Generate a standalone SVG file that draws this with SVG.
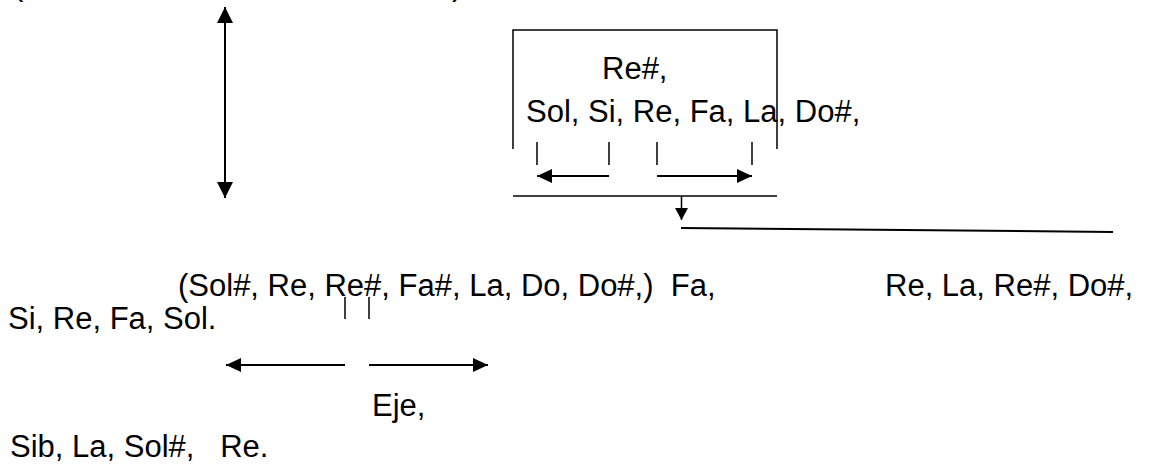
<svg xmlns="http://www.w3.org/2000/svg" width="1149" height="465" viewBox="0 0 1149 465">
<style>
  text { font-family: "Liberation Sans", Arial, sans-serif; font-size: 31px; fill: #000; white-space: pre; }
  .ln { stroke: #000; stroke-width: 1.5; fill: none; }
  .ar { stroke: #000; stroke-width: 2; fill: none; }
</style>
<defs>
  <marker id="ah" markerUnits="userSpaceOnUse" markerWidth="16" markerHeight="16" refX="15" refY="7" orient="auto-start-reverse" viewBox="0 0 16 16">
    <path d="M0,0 L15,7 L0,14 z" fill="#000"/>
  </marker>
  <marker id="ahb" markerUnits="userSpaceOnUse" markerWidth="17" markerHeight="17" refX="16" refY="8" orient="auto-start-reverse" viewBox="0 0 17 17">
    <path d="M0,0 L16,8 L0,16 z" fill="#000"/>
  </marker>
  <marker id="ahs" markerUnits="userSpaceOnUse" markerWidth="13" markerHeight="14" refX="12" refY="6.5" orient="auto" viewBox="0 0 13 14">
    <path d="M0,0 L12,6.5 L0,13 z" fill="#000"/>
  </marker>
</defs>
<rect width="1149" height="465" fill="#fff"/>

<g id="top-clipped">
  <text x="13" y="-5">(</text>
  <text x="452" y="-5">)</text>
</g>

<g id="box">
  <polyline class="ln" points="513,149 513,30 777,30 777,149"/>
  <line class="ln" x1="513" y1="196" x2="777" y2="196"/>
  <text x="602" y="79">Re#,</text>
  <text x="526" y="122">Sol, Si, Re, Fa, La, Do#,</text>
</g>

<g id="middle-line">
  <text x="178" y="296">(Sol#, Re, Re#, Fa#, La, Do, Do#,)  Fa,</text>
</g>
<g id="right-line">
  <text x="885" y="296">Re, La, Re#, Do#,</text>
</g>
<g id="left-line">
  <text x="8" y="329">Si, Re, Fa, Sol.</text>
</g>
<g id="eje">
  <text x="372" y="416">Eje,</text>
</g>
<g id="bottom-line">
  <text x="10" y="457">Sib, La, Sol#,   Re.</text>
</g>

<g id="connectors">
  <line class="ar" x1="225" y1="7" x2="225" y2="198" marker-start="url(#ahb)" marker-end="url(#ahb)" stroke-width="2.5"/>
  <line class="ln" x1="537" y1="142" x2="537" y2="165"/>
  <line class="ln" x1="609" y1="142" x2="609" y2="165"/>
  <line class="ln" x1="657" y1="142" x2="657" y2="165"/>
  <line class="ln" x1="752" y1="142" x2="752" y2="165"/>
  <line class="ar" x1="609" y1="176" x2="537" y2="176" marker-end="url(#ah)"/>
  <line class="ar" x1="657" y1="176" x2="752" y2="176" marker-end="url(#ah)"/>
  <line class="ln" x1="681.5" y1="196" x2="681.5" y2="220" marker-end="url(#ahs)"/>
  <line class="ar" x1="681" y1="228" x2="1113" y2="232"/>
  <line class="ln" x1="345" y1="297" x2="345" y2="319"/>
  <line class="ln" x1="369" y1="297" x2="369" y2="319"/>
  <line class="ar" x1="345" y1="365" x2="226" y2="365" marker-end="url(#ah)"/>
  <line class="ar" x1="369" y1="365" x2="488" y2="365" marker-end="url(#ah)"/>
</g>
</svg>
